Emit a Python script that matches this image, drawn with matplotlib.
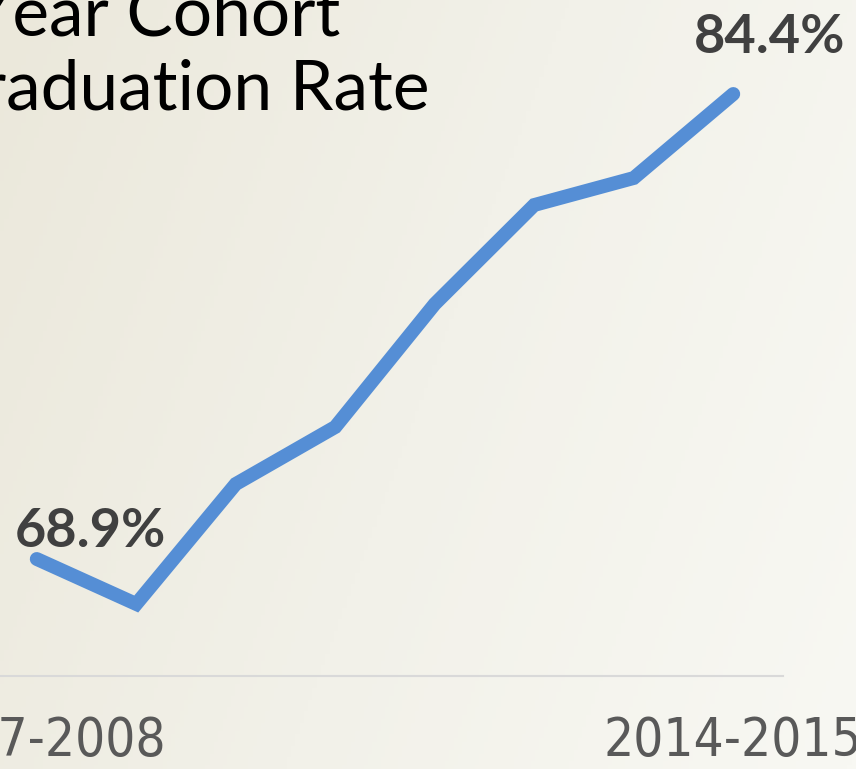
import numpy as np
import matplotlib.pyplot as plt
from matplotlib.colors import LinearSegmentedColormap

# four-year cohort graduation rate, by school year
years = ['2007-2008', '2008-2009', '2009-2010', '2010-2011',
         '2011-2012', '2012-2013', '2013-2014', '2014-2015']
rates = [68.9, 67.4, 71.4, 73.3, 77.4, 80.7, 81.6, 84.4]
shown_ticks = [0, 7]

W, H = 856, 769
fig = plt.figure(figsize=(W / 100, H / 100), dpi=100)

# background gradient, darker beige top-left to off-white bottom-right
bg = fig.add_axes([0, 0, 1, 1])
gx, gy = np.meshgrid(np.linspace(0, 1, 200), np.linspace(0, 1, 200))
grad = 0.75 * gx + 0.25 * gy
cmap = LinearSegmentedColormap.from_list('bg', ['#EBE8DB', '#F2F1E9', '#F8F8F3'])
bg.imshow(grad, cmap=cmap, aspect='auto', extent=[0, 1, 0, 1], origin='upper')
bg.axis('off')

# main axes, slightly wider than the canvas on the left
left_px, right_px, bot_px, top_px = -13, 783, 676, 76
ax = fig.add_axes([left_px / W, (H - bot_px) / H,
                   (right_px - left_px) / W, (bot_px - top_px) / H])
ax.patch.set_alpha(0)

x = np.arange(len(years))
ax.plot(x, rates, color='#558ED5', lw=10, solid_capstyle='round',
        solid_joinstyle='miter', clip_on=False)

ax.set_xlim(-0.5, len(years) - 0.5)
ax.set_ylim(65, 85)
for s in ['top', 'right', 'left']:
    ax.spines[s].set_visible(False)
ax.spines['bottom'].set_color('#D9D9D9')
ax.spines['bottom'].set_linewidth(1.5)
ax.set_yticks([])
ax.set_xticks(shown_ticks)
ax.set_xticklabels([years[i] for i in shown_ticks])
ax.tick_params(axis='x', length=0, pad=28, labelsize=38, labelcolor='#595959')
for t in ax.get_xticklabels():
    t.set_family('DejaVu Sans')
    t.set_fontstretch('condensed')

lab_kw = dict(fontsize=39, fontweight='bold', color='#404040',
              family=['Lato', 'DejaVu Sans'], va='baseline')
ax.annotate(f'{rates[0]}%', (x[0], rates[0]), xytext=(-16, 8.6),
            textcoords='offset points', ha='left', **lab_kw)
ax.annotate(f'{rates[-1]}%', (x[-1], rates[-1]), xytext=(80.6, 29.5),
            textcoords='offset points', ha='right', **lab_kw)

title_kw = dict(fontsize=50, color='black', family=['Lato', 'DejaVu Sans'],
                ha='right', va='baseline')
fig.text(340 / W, 1 - 35 / H, '4-Year Cohort', **title_kw)
fig.text(430 / W, 1 - 110 / H, 'Graduation Rate', **title_kw)

fig.savefig('out.png', dpi=100)
